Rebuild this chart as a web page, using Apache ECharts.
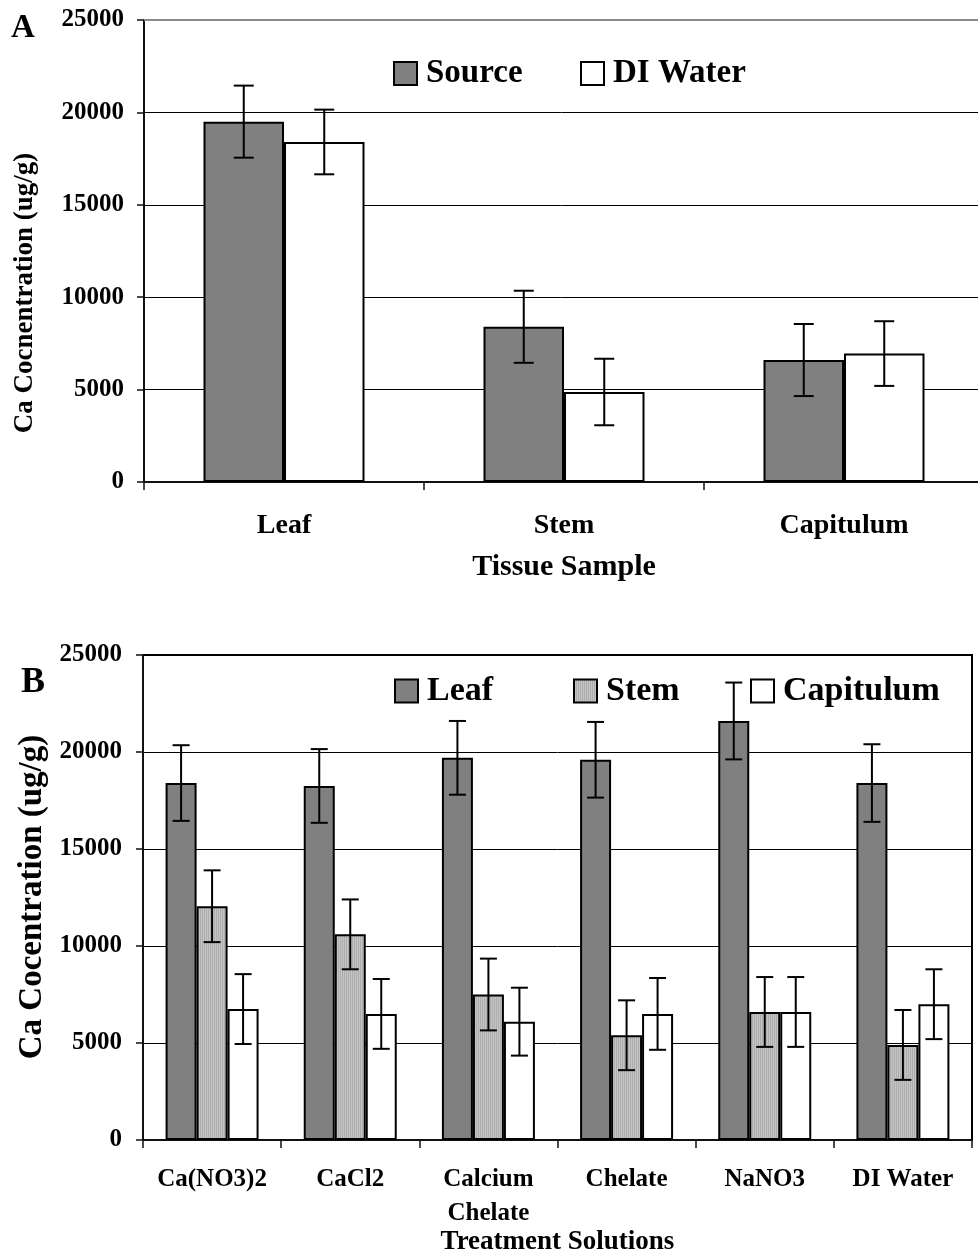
<!DOCTYPE html>
<html>
<head>
<meta charset="utf-8">
<script src="https://cdn.jsdelivr.net/npm/echarts@6/dist/echarts.min.js"></script>
<style>
  html, body { margin: 0; padding: 0; background: #fff; }
  #chart { width: 978px; height: 1254px; }
</style>
</head>
<body>
<div id="chart"></div>
<script>
// Panel A: Ca concentration by tissue, source vs DI water
const tissueCategories = ['Leaf', 'Stem', 'Capitulum'];
const sourceMean = [19500, 8400, 6600];
const sourceErr = [1950, 1950, 1950];
const diWaterMean = [18400, 4870, 6950];
const diWaterErr = [1750, 1800, 1750];

// Panel B: Ca concentration by treatment solution and tissue
const treatmentCategories = ['Ca(NO3)2', 'CaCl2', 'Calcium\nChelate', 'Chelate', 'NaNO3', 'DI Water'];
const leafMean = [18400, 18250, 19700, 19600, 21600, 18400];
const leafErr = [1950, 1900, 1900, 1950, 1980, 2000];
const stemMean = [12050, 10600, 7500, 5400, 6600, 4900];
const stemErr = [1850, 1800, 1850, 1800, 1800, 1800];
const capitulumMean = [6750, 6500, 6100, 6500, 6600, 7000];
const capitulumErr = [1800, 1800, 1750, 1850, 1800, 1800];

const yMin = 0, yMax = 25000, yStep = 5000;

const FONT = "'Liberation Serif', 'Times New Roman', serif";
const GAP_A = 0.425, GAP_B = 0.327;

// light grey striped fill used for the stem bars
const stripe = document.createElement('canvas');
stripe.width = 2; stripe.height = 2;
const sc = stripe.getContext('2d');
sc.fillStyle = '#c4c4c4'; sc.fillRect(0, 0, 2, 2);
sc.fillStyle = '#aeaeae'; sc.fillRect(0, 0, 1, 2);
const stemFill = { image: stripe, repeat: 'repeat' };

function errorData(mean, err) {
  return mean.map((m, i) => [i, m, err[i]]);
}

// whiskers centred on the bar at position `index` of `count` bars in a band
function errorBars(gap, count, index, cap) {
  return function (params, api) {
    const x = api.value(0), m = api.value(1), e = api.value(2);
    const hi = api.coord([x, m + e]);
    const lo = api.coord([x, m - e]);
    const band = api.size([1, 0])[0];
    const bw = band * (1 - gap) / count;
    const cx = hi[0] + (index - (count - 1) / 2) * bw;
    const style = { stroke: '#000', lineWidth: 2 };
    return {
      type: 'group',
      children: [
        { type: 'line', shape: { x1: cx, y1: hi[1], x2: cx, y2: lo[1] }, style },
        { type: 'line', shape: { x1: cx - cap / 2, y1: hi[1], x2: cx + cap / 2, y2: hi[1] }, style },
        { type: 'line', shape: { x1: cx - cap / 2, y1: lo[1], x2: cx + cap / 2, y2: lo[1] }, style }
      ]
    };
  };
}

function barSeries(name, data, color, gi, gap) {
  return {
    type: 'bar', name, data,
    xAxisIndex: gi, yAxisIndex: gi,
    barGap: '0%', barCategoryGap: (gap * 100) + '%',
    itemStyle: { color, borderColor: '#000', borderWidth: 2 },
    emphasis: { disabled: true },
    z: 2
  };
}

function errSeries(name, mean, err, gi, gap, count, index, cap) {
  return {
    type: 'custom', name,
    xAxisIndex: gi, yAxisIndex: gi,
    data: errorData(mean, err),
    renderItem: errorBars(gap, count, index, cap),
    encode: { x: 0, y: 1 },
    silent: true,
    z: 5
  };
}

function legendItem(name, left, top, size, font) {
  return {
    data: [name], left, top, padding: 0,
    icon: 'rect', itemWidth: size, itemHeight: size,
    selectedMode: false,
    textStyle: { fontFamily: FONT, fontWeight: 'bold', fontSize: font, color: '#000', padding: [0, 0, 0, 4] }
  };
}

function yTitle(text, x, y, size) {
  return {
    type: 'text', x, y, rotation: Math.PI / 2,
    style: { text, font: 'bold ' + size + 'px ' + FONT, fill: '#000', align: 'center', verticalAlign: 'middle' }
  };
}

const valueAxisCommon = {
  type: 'value', min: yMin, max: yMax, interval: yStep,
  axisLine: { show: true, lineStyle: { color: '#111', width: 2 } },
  axisTick: { show: true, length: 7, lineStyle: { color: '#111', width: 1.5 } }
};

const option = {
  backgroundColor: '#fff',
  animation: false,
  graphic: [
    { type: 'text', left: 11, top: 12, style: { text: 'A', font: 'bold 33px ' + FONT, fill: '#000' } },
    { type: 'text', left: 21, top: 665, style: { text: 'B', font: 'bold 36px ' + FONT, fill: '#000' } },
    yTitle('Ca Cocnentration (ug/g)', 25, 293, 27),
    yTitle('Ca Cocentration (ug/g)', 32, 897, 33)
  ],
  legend: [
    legendItem('Source', 393, 57, 23, 33),
    legendItem('DI Water', 580, 57, 23, 33),
    legendItem('Leaf', 394, 674, 23, 34),
    legendItem('Stem', 573, 674, 23, 34),
    legendItem('Capitulum', 750, 674, 23, 34)
  ],
  grid: [
    { left: 144, top: 20, width: 840, height: 462, outerBoundsMode: 'none', containLabel: false },
    { left: 143, top: 655, width: 829, height: 485, outerBoundsMode: 'none', containLabel: false,
      show: true, borderColor: '#000', borderWidth: 2, backgroundColor: 'transparent' }
  ],
  xAxis: [
    {
      type: 'category', gridIndex: 0, data: tissueCategories,
      axisLine: { lineStyle: { color: '#111', width: 2 } },
      axisTick: { show: true, length: 8, lineStyle: { color: '#111', width: 1.5 } },
      axisLabel: { margin: 30, fontFamily: FONT, fontWeight: 'bold', fontSize: 28, color: '#000' },
      name: 'Tissue Sample', nameLocation: 'middle', nameGap: 70, nameMoveOverlap: false,
      nameTextStyle: { fontFamily: FONT, fontWeight: 'bold', fontSize: 30, color: '#000' }
    },
    {
      type: 'category', gridIndex: 1, data: treatmentCategories,
      axisLine: { lineStyle: { color: '#111', width: 2 } },
      axisTick: { show: true, length: 8, lineStyle: { color: '#111', width: 1.5 } },
      axisLabel: { margin: 23, fontFamily: FONT, fontWeight: 'bold', fontSize: 25, lineHeight: 34, color: '#000', interval: 0 },
      name: 'Treatment Solutions', nameLocation: 'middle', nameGap: 89, nameMoveOverlap: false,
      nameTextStyle: { fontFamily: FONT, fontWeight: 'bold', fontSize: 27, color: '#000' }
    }
  ],
  yAxis: [
    Object.assign({}, valueAxisCommon, {
      gridIndex: 0,
      axisLabel: { margin: 20, fontFamily: FONT, fontWeight: 'bold', fontSize: 25, color: '#000', formatter: v => String(v) },
      splitLine: { show: true, lineStyle: { color: '#000', width: 1 } }
    }),
    Object.assign({}, valueAxisCommon, {
      gridIndex: 1,
      axisLabel: { margin: 21, fontFamily: FONT, fontWeight: 'bold', fontSize: 25, color: '#000', formatter: v => String(v) },
      splitLine: { show: true, lineStyle: { color: '#000', width: 1 } }
    })
  ],
  series: [
    Object.assign(barSeries('Source', sourceMean, '#808080', 0, GAP_A), {
      // grey top edge of the upper plot
      markLine: {
        silent: true, symbol: 'none', label: { show: false },
        lineStyle: { color: '#8a8a8a', width: 2, type: 'solid' },
        data: [{ yAxis: yMax }]
      }
    }),
    barSeries('DI Water', diWaterMean, '#ffffff', 0, GAP_A),
    errSeries('Source error', sourceMean, sourceErr, 0, GAP_A, 2, 0, 20),
    errSeries('DI Water error', diWaterMean, diWaterErr, 0, GAP_A, 2, 1, 20),

    barSeries('Leaf', leafMean, '#808080', 1, GAP_B),
    barSeries('Stem', stemMean, stemFill, 1, GAP_B),
    barSeries('Capitulum', capitulumMean, '#ffffff', 1, GAP_B),
    errSeries('Leaf error', leafMean, leafErr, 1, GAP_B, 3, 0, 17),
    errSeries('Stem error', stemMean, stemErr, 1, GAP_B, 3, 1, 17),
    errSeries('Capitulum error', capitulumMean, capitulumErr, 1, GAP_B, 3, 2, 17)
  ]
};

const chart = echarts.init(document.getElementById('chart'), null, { renderer: 'canvas' });
chart.setOption(option);
</script>
</body>
</html>
